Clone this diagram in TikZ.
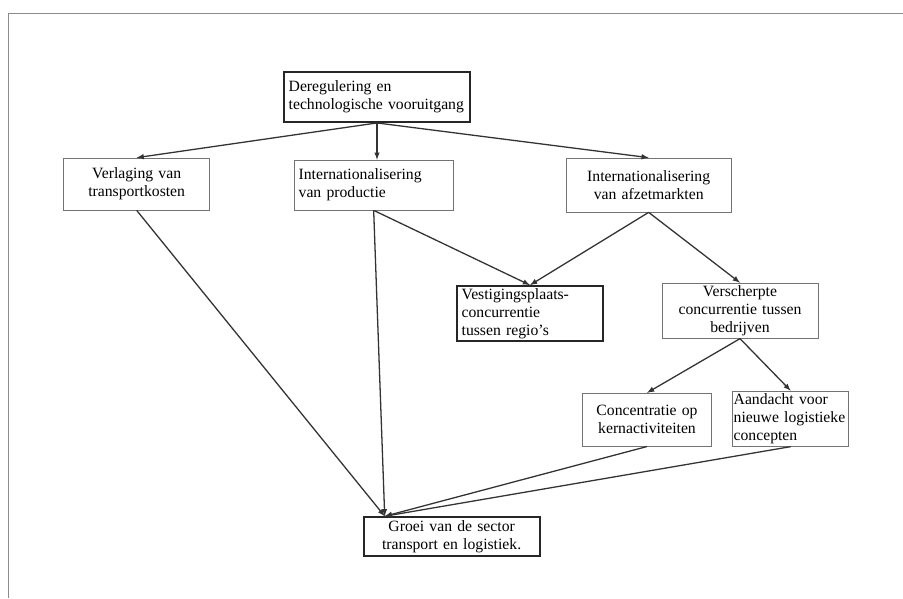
\documentclass[tikz,border=0pt]{standalone}
\usepackage{fontspec}
\setmainfont{Liberation Serif}
\usetikzlibrary{shapes,arrows,positioning}
\hyphenpenalty=10000

\begin{document}
\begin{tikzpicture}[
  block/.style={
    rectangle,
    draw=black!55,
    line width=0.6pt,
    inner xsep=4pt,
    inner ysep=2pt,
    font=\fontsize{13.4}{15.5}\selectfont,
    fill=white
  },
  heavy/.style={draw=black!85, line width=1.6pt},
  flow/.style={->, line width=1.1pt, draw=black!80, >=latex}
]

% page edge of the scan
\useasboundingbox (0,0) rectangle (27.09,-17.94);
\draw[black!45, line width=0.8pt] (0.24,-17.94) -- (0.24,-0.39) -- (27.09,-0.39);

\node[block, heavy, text width=5.3cm, minimum height=1.5cm, align=left] (dereg) at (11.31,-2.91)
  {Deregulering en\\technologische vooruitgang};
\node[block, text width=4.1cm, minimum height=1.56cm, align=center] (verlaging) at (4.10,-5.52)
  {Verlaging van\\transportkosten};
\node[block, text width=4.5cm, minimum height=1.5cm, align=left] (productie) at (11.21,-5.55)
  {Internationalisering\\van productie};
\node[block, text width=4.65cm, minimum height=1.62cm, align=center] (afzet) at (19.46,-5.55)
  {Internationalisering\\van afzetmarkten};
\node[block, heavy, text width=4.1cm, minimum height=1.59cm, align=left] (regios) at (15.90,-9.41)
  {Vestigingsplaats-\\concurrentie\\tussen regio's};
\node[block, text width=4.4cm, minimum height=1.47cm, align=center] (bedrijven) at (22.20,-9.32)
  {Verscherpte\\concurrentie tussen\\bedrijven};
\node[block, text width=3.6cm, minimum height=1.59cm, align=center] (kern) at (19.41,-12.59)
  {Concentratie op\\kernactiviteiten};
\node[block, text width=3.42cm, minimum height=1.59cm, align=left, inner xsep=1pt] (concepten) at (23.72,-12.56)
  {Aandacht voor\\nieuwe logistieke\\concepten};
\node[block, heavy, text width=5.0cm, minimum height=1.17cm, align=center] (groei) at (13.55,-16.10)
  {Groei van de sector\\transport en logistiek.};

\coordinate (meet) at ([xshift=0.66cm]groei.north west);

\draw[flow] (dereg.south) -- (verlaging.north);
\draw[flow] (dereg.south) -- (dereg.south |- productie.north);
\draw[flow] (dereg.south) -- (afzet.north);
\draw[flow] (productie.south) -- (regios.north);
\draw[flow] (afzet.south) -- (regios.north);
\draw[flow] (afzet.south) -- (bedrijven.north);
\draw[flow] (bedrijven.south) -- (kern.north);
\draw[flow] (bedrijven.south) -- (concepten.north);
\draw[flow] (verlaging.south) -- (meet);
\draw[flow] (productie.south) -- (meet);
\draw[flow] (kern.south) -- (meet);
\draw[flow] (concepten.south) -- (meet);

\end{tikzpicture}
\end{document}
